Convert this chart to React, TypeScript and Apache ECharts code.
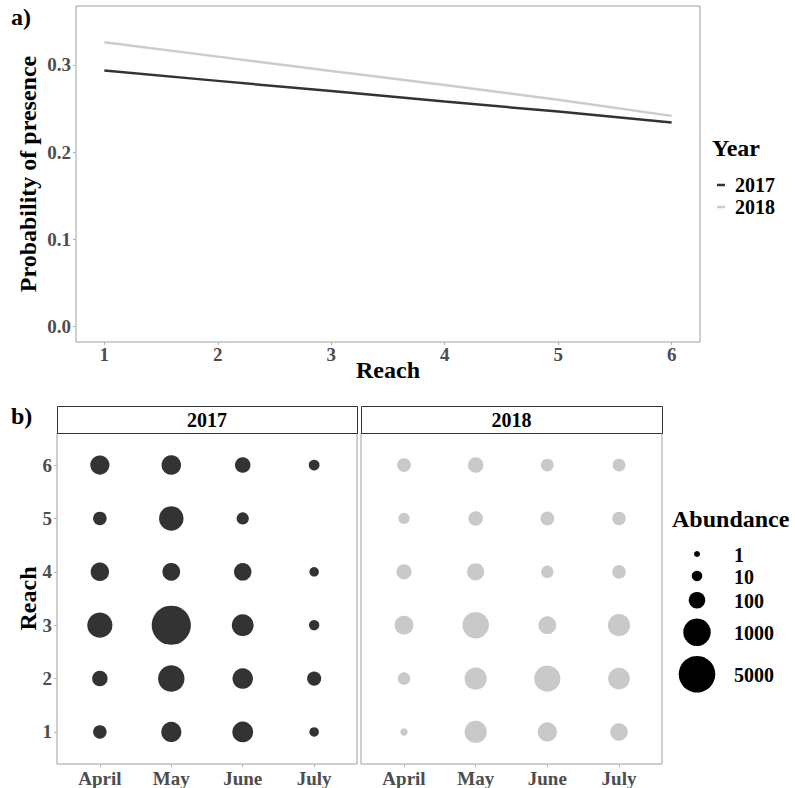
import React, { useEffect, useRef } from "react";
import * as echarts from "echarts";

// ---- Data ----
const reaches = [1, 2, 3, 4, 5, 6];
const prob2017 = [0.2935, 0.2817, 0.27, 0.258, 0.2465, 0.234];
const prob2018 = [0.326, 0.3095, 0.293, 0.277, 0.26, 0.2416];
const probTicks = [0, 0.1, 0.2, 0.3];

const months = ["April", "May", "June", "July"];
// rows: reach 1..6 ; columns: April, May, June, July (0 = no fish caught)
const abundance2017 = [
  [32, 217, 246, 6],
  [68, 810, 231, 41],
  [617, 8000, 303, 9],
  [152, 131, 123, 6],
  [32, 534, 19, 0],
  [176, 187, 68, 11],
];
const abundance2018 = [
  [2, 330, 176, 123],
  [21, 330, 760, 303],
  [162, 810, 131, 330],
  [61, 116, 21, 32],
  [13, 46, 35, 32],
  [35, 68, 24, 24],
];
const sizeLegendValues = [1, 10, 100, 1000, 5000];

// ---- Styles ----
const FONT = "Liberation Serif";
const DARK = "#333333";
const LIGHT = "#c9c9c9";
const TICK_COLOR = "#4d4d4d";
const BORDER = "#a0a0a0";

// size mapping anchors (diameter in px at legend values)
const SIZE_ANCHOR_D = [6, 10.5, 16.5, 27.5, 36.5];
function diam(v: number): number {
  const lv = Math.log10(v);
  const L = sizeLegendValues.map((x) => Math.log10(x));
  let i = 0;
  while (i < L.length - 2 && lv > L[i + 1]) i++;
  const t = (lv - L[i]) / (L[i + 1] - L[i]);
  return SIZE_ANCHOR_D[i] + t * (SIZE_ANCHOR_D[i + 1] - SIZE_ANCHOR_D[i]);
}

function bubbleData(rows: number[][]) {
  const out: number[][] = [];
  rows.forEach((row, ri) => {
    row.forEach((v, mi) => {
      if (v > 0) out.push([mi + 1, reaches[ri], v]);
    });
  });
  return out;
}

const tickLabel = {
  color: TICK_COLOR,
  fontFamily: FONT,
  fontWeight: "bold" as const,
  fontSize: 19,
};
const titleText = {
  color: "#000",
  fontFamily: FONT,
  fontWeight: "bold" as const,
  fontSize: 24,
};

export default function App() {
  const ref = useRef<HTMLDivElement>(null);
  useEffect(() => {
    document.body.style.margin = "0";
    if (!ref.current) return;
    const chart = echarts.init(ref.current, undefined, { renderer: "svg" });

    const grids = [
      { left: 76, top: 6, width: 624, height: 336 },
      { left: 57, top: 433, width: 300, height: 331 },
      { left: 361, top: 433, width: 301, height: 331 },
    ].map((g) => ({
      ...g,
      show: true,
      borderColor: BORDER,
      borderWidth: 1,
      backgroundColor: "transparent",
      containLabel: false,
    }));

    const monthAxis = (gridIndex: number) => ({
      type: "value",
      gridIndex,
      min: 0.4,
      max: 4.6,
      axisLine: { show: false, onZero: false },
      splitLine: { show: false },
      axisTick: {
        show: true,
        length: 3,
        customValues: [1, 2, 3, 4],
        lineStyle: { color: "#b0b0b0" },
      },
      axisLabel: {
        ...tickLabel,
        margin: 5,
        customValues: [1, 2, 3, 4],
        formatter: (v: number) => months[Math.round(v) - 1] ?? "",
      },
    });
    const reachAxis = (gridIndex: number, withLabels: boolean) => ({
      type: "value",
      gridIndex,
      min: 0.4,
      max: 6.6,
      axisLine: { show: false, onZero: false },
      splitLine: { show: false },
      axisTick: {
        show: withLabels,
        length: 3,
        customValues: reaches,
        lineStyle: { color: "#b0b0b0" },
      },
      axisLabel: {
        ...tickLabel,
        show: withLabels,
        margin: 5,
        customValues: reaches,
        formatter: (v: number) => String(Math.round(v)),
      },
      ...(withLabels
        ? {
            name: "Reach",
            nameLocation: "middle",
            nameRotate: 90,
            nameGap: 17,
            nameMoveOverlap: false,
            nameTextStyle: titleText,
          }
        : {}),
    });

    // size legend layout
    const legendItems: any[] = [];
    let cy = 554;
    sizeLegendValues.forEach((v, i) => {
      const d = diam(v);
      const h = Math.max(22, d + 10);
      if (i > 0) {
        const pd = diam(sizeLegendValues[i - 1]);
        const ph = Math.max(22, pd + 10);
        cy += (ph + h) / 2;
      }
      legendItems.push({
        type: "circle",
        shape: { cx: 697, cy, r: d / 2 },
        style: { fill: "#000" },
      });
      legendItems.push({
        type: "text",
        x: 734,
        y: cy + 1,
        style: {
          text: String(v),
          font: `bold 20px "${FONT}"`,
          fill: "#000",
          verticalAlign: "middle",
          align: "left",
        },
      });
    });

    const strip = (x: number, w: number, label: string) => [
      {
        type: "rect",
        shape: { x: x + 0.5, y: 406.5, width: w, height: 27 },
        style: { fill: "#fff", stroke: DARK, lineWidth: 1 },
      },
      {
        type: "text",
        x: x + w / 2,
        y: 420,
        style: {
          text: label,
          font: `bold 20px "${FONT}"`,
          fill: "#000",
          align: "center",
          verticalAlign: "middle",
        },
      },
    ];

    const option: any = {
      animation: false,
      backgroundColor: "#fff",
      grid: grids,
      xAxis: [
        {
          type: "value",
          gridIndex: 0,
          min: 0.75,
          max: 6.25,
          axisLine: { show: false, onZero: false },
          splitLine: { show: false },
          axisTick: {
            show: true,
            length: 3,
            customValues: reaches,
            lineStyle: { color: "#b0b0b0" },
          },
          axisLabel: {
            ...tickLabel,
            margin: 3,
            customValues: reaches,
            formatter: (v: number) => String(Math.round(v)),
          },
          name: "Reach",
          nameLocation: "middle",
          nameGap: 16,
          nameMoveOverlap: false,
          nameTextStyle: titleText,
        },
        monthAxis(1),
        monthAxis(2),
      ],
      yAxis: [
        {
          type: "value",
          gridIndex: 0,
          min: -0.0175,
          max: 0.3675,
          axisLine: { show: false, onZero: false },
          splitLine: { show: false },
          axisTick: {
            show: true,
            length: 3,
            customValues: probTicks,
            lineStyle: { color: "#b0b0b0" },
          },
          axisLabel: {
            ...tickLabel,
            margin: 5,
            customValues: probTicks,
            formatter: (v: number) => v.toFixed(1),
          },
          name: "Probability of presence",
          nameLocation: "middle",
          nameRotate: 90,
          nameGap: 36,
          nameMoveOverlap: false,
          nameTextStyle: titleText,
        },
        reachAxis(1, true),
        reachAxis(2, false),
      ],
      legend: {
        data: ["2017", "2018"],
        orient: "vertical",
        left: 712,
        top: 170,
        icon: "rect",
        itemWidth: 8,
        itemHeight: 2.5,
        itemGap: 2,
        selectedMode: false,
        textStyle: {
          fontFamily: FONT,
          fontWeight: "bold",
          fontSize: 20,
          color: "#000",
          lineHeight: 20,
          padding: [0, 0, 0, 5],
        },
      },
      series: [
        {
          name: "2017",
          type: "line",
          xAxisIndex: 0,
          yAxisIndex: 0,
          color: DARK,
          showSymbol: false,
          symbol: "none",
          lineStyle: { width: 2.5, color: DARK },
          data: reaches.map((r, i) => [r, prob2017[i]]),
          z: 3,
        },
        {
          name: "2018",
          type: "line",
          xAxisIndex: 0,
          yAxisIndex: 0,
          color: "#cccccc",
          showSymbol: false,
          symbol: "none",
          lineStyle: { width: 2.5, color: "#cccccc" },
          data: reaches.map((r, i) => [r, prob2018[i]]),
          z: 2,
        },
        {
          name: "Abundance 2017",
          type: "scatter",
          xAxisIndex: 1,
          yAxisIndex: 1,
          symbol: "circle",
          symbolSize: (val: number[]) => diam(val[2]),
          itemStyle: { color: DARK, opacity: 1 },
          data: bubbleData(abundance2017),
        },
        {
          name: "Abundance 2018",
          type: "scatter",
          xAxisIndex: 2,
          yAxisIndex: 2,
          symbol: "circle",
          symbolSize: (val: number[]) => diam(val[2]),
          itemStyle: { color: LIGHT, opacity: 1 },
          data: bubbleData(abundance2018),
        },
      ],
      graphic: [
        {
          type: "text",
          x: 11,
          y: 17,
          style: {
            text: "a)",
            font: `bold 24px "${FONT}"`,
            fill: "#000",
            verticalAlign: "middle",
          },
        },
        {
          type: "text",
          x: 11,
          y: 416,
          style: {
            text: "b)",
            font: `bold 24px "${FONT}"`,
            fill: "#000",
            verticalAlign: "middle",
          },
        },
        {
          type: "text",
          x: 712,
          y: 148,
          style: {
            text: "Year",
            font: `bold 24px "${FONT}"`,
            fill: "#000",
            verticalAlign: "middle",
          },
        },
        {
          type: "text",
          x: 672,
          y: 519,
          style: {
            text: "Abundance",
            font: `bold 24px "${FONT}"`,
            fill: "#000",
            verticalAlign: "middle",
          },
        },
        ...strip(57, 300, "2017"),
        ...strip(361, 301, "2018"),
        ...legendItems,
      ],
    };
    chart.setOption(option);
    return () => chart.dispose();
  }, []);
  return <div ref={ref} style={{ width: 795, height: 788 }} />;
}
